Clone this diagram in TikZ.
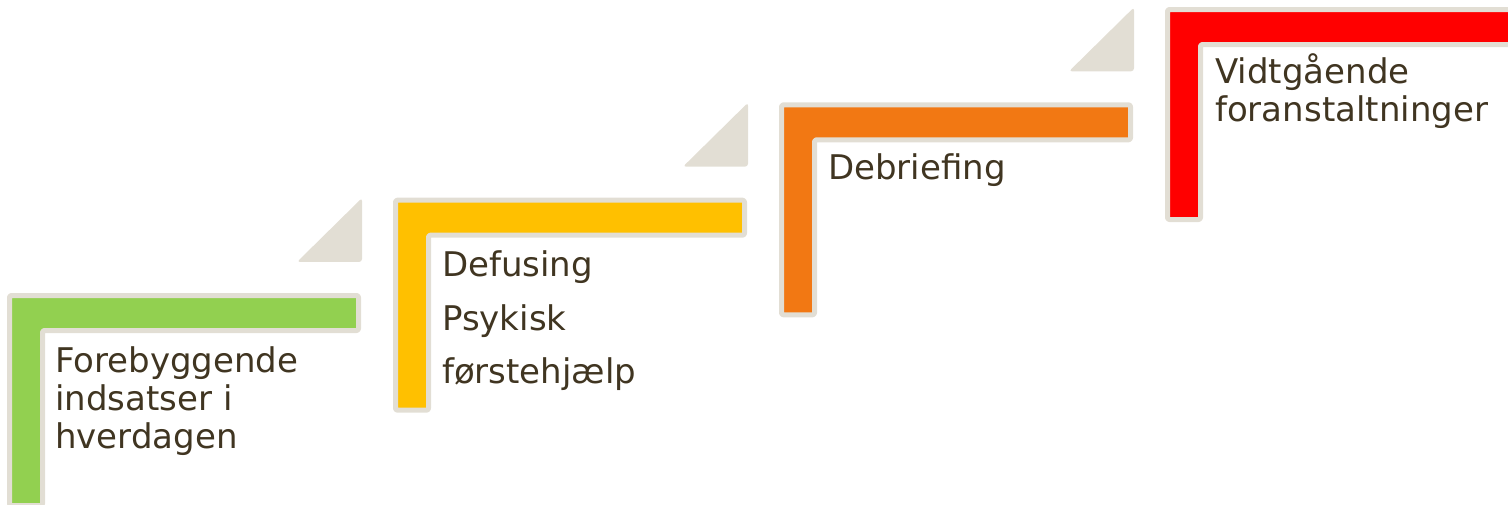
\documentclass[tikz,border=0pt]{standalone}
\usepackage{fontspec}
\setmainfont{DejaVu Sans}
\usepackage{xcolor}
\usepackage{tikz}

\definecolor{rimgray}{HTML}{E2DED4}
\definecolor{textbrown}{HTML}{403521}
\definecolor{stepgreen}{HTML}{92D050}
\definecolor{stepyellow}{HTML}{FFC000}
\definecolor{steporange}{HTML}{F27813}
\definecolor{stepred}{HTML}{FF0000}

\begin{document}
\begin{tikzpicture}[x=1pt,y=-1pt,
  rim/.style={draw=rimgray,line width=5pt,line join=round,rounded corners=2pt},
  ramp/.style={fill=rimgray,rounded corners=3pt},
  steptext/.style={anchor=base west,inner sep=0pt,align=left,text=textbrown,
    font=\fontsize{34}{38}\selectfont}]

\clip (0,0) rectangle (1508,505);

%four L-shaped steps, each one up and to the right of the last
\foreach \c [count=\i from 0] in {stepgreen,stepyellow,steporange,stepred}{
  \begin{scope}[shift={(386*\i,-95.33*\i)}]
    \draw[rim,fill=\c] (9.5,295.5) -- (358.5,295.5) -- (358.5,330.5)
      -- (42.5,330.5) -- (42.5,505.5) -- (9.5,505.5) -- cycle;
    %small ramp leading up to the next step
    \fill[ramp] (297,262) -- (362,262) -- (362,198) -- cycle;
  \end{scope}
}

%labels on the steps (base anchor sits on the last line)
\node[steptext] (prevent) at (55,448) {Forebyggende\\indsatser i\\hverdagen};
\node[steptext] (defuse) at (442,383) {Defusing\\[16pt]Psykisk\\[15pt]førstehjælp};
\node[steptext] (debrief) at (828,180) {Debriefing};
\node[steptext] (measures) at (1215,122) {Vidtgående\\foranstaltninger};

\end{tikzpicture}
\end{document}
